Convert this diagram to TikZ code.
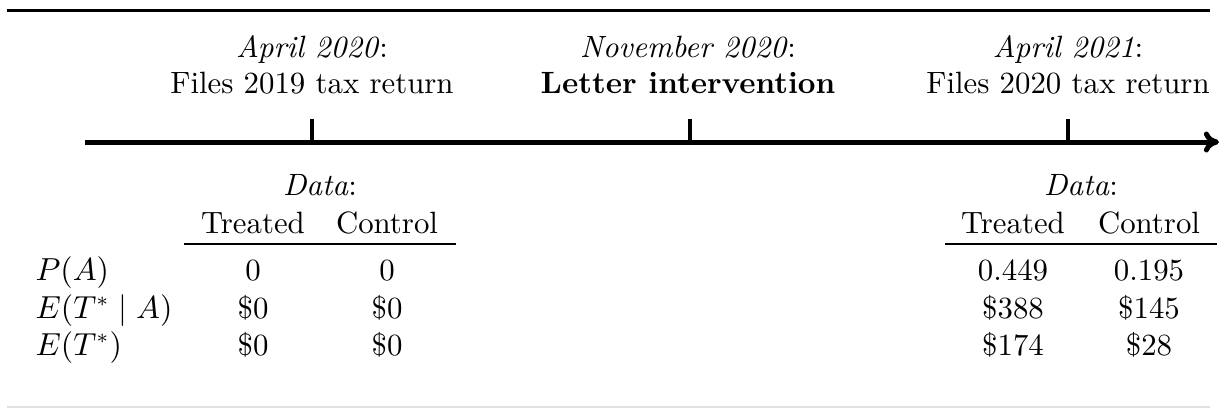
\documentclass[tikz,border=0pt]{standalone}
\usetikzlibrary{arrows.meta}
\begin{document}
\begin{tikzpicture}[x=0.344pt,y=-0.344pt,
  every node/.style={font=\fontsize{10.6}{12.7}\selectfont},
  txt/.style={inner sep=0pt,anchor=base},
  lbl/.style={inner sep=0pt,anchor=base west},
  toprulestyle/.style={line width=1.03pt},
  axis/.style={line width=1.72pt,-{To[length=5.2pt,width=7.2pt]}},
  tick/.style={line width=1.2pt},
  midrule/.style={line width=0.5pt},
  greyrule/.style={line width=0.4pt,draw=black!12}]
\useasboundingbox (0,0) rectangle (1223,408);
% rules
\coordinate (tr0) at (7,10); \coordinate (tr1) at (1210,10);
\draw[toprulestyle] (tr0) -- (tr1);
\coordinate (gr0) at (7,407); \coordinate (gr1) at (1210,407);
\draw[greyrule] (gr0) -- (gr1);
% timeline
\coordinate (t0) at (85,142); \coordinate (t1) at (1219,142);
\coordinate (k1) at (312,142); \coordinate (k1t) at (312,119);
\coordinate (k2) at (690,142); \coordinate (k2t) at (690,119);
\coordinate (k3) at (1068,142); \coordinate (k3t) at (1068,119);
\draw[tick] (k1) -- (k1t);
\draw[tick] (k2) -- (k2t);
\draw[tick] (k3) -- (k3t);
\draw[axis] (t0) -- (t1);
% event labels
\node[txt] (e1a) at (312,57) {\textit{April 2020}:};
\node[txt] (e1b) at (312,93) {Files 2019 tax return};
\node[txt] (e2a) at (688,57) {\textit{November 2020}:};
\node[txt] (e2b) at (688,93) {\textbf{Letter intervention}};
\node[txt] (e3a) at (1068,57) {\textit{April 2021}:};
\node[txt] (e3b) at (1068,93) {Files 2020 tax return};
% left table
\node[txt] (ld) at (320,195) {\textit{Data}:};
\node[txt] (lt) at (253,233) {Treated};
\node[txt] (lc) at (387,233) {Control};
\coordinate (lr0) at (184,244); \coordinate (lr1) at (456,244);
\draw[midrule] (lr0) -- (lr1);
\node[lbl] (r1) at (35,280) {$P(A)$};
\node[lbl] (r2) at (35,318) {$E(T^{*}\mid A)$};
\node[lbl] (r3) at (35,355) {$E(T^{*})$};
\node[txt] (l11) at (253,280) {0};
\node[txt] (l12) at (387,280) {0};
\node[txt] (l21) at (253,318) {\$0};
\node[txt] (l22) at (387,318) {\$0};
\node[txt] (l31) at (253,355) {\$0};
\node[txt] (l32) at (387,355) {\$0};
% right table
\node[txt] (rd) at (1081,195) {\textit{Data}:};
\node[txt] (rt) at (1013,233) {Treated};
\node[txt] (rc) at (1149,233) {Control};
\coordinate (rr0) at (945,244); \coordinate (rr1) at (1217,244);
\draw[midrule] (rr0) -- (rr1);
\node[txt] (v11) at (1013,280) {0.449};
\node[txt] (v12) at (1149,280) {0.195};
\node[txt] (v21) at (1013,318) {\$388};
\node[txt] (v22) at (1149,318) {\$145};
\node[txt] (v31) at (1013,355) {\$174};
\node[txt] (v32) at (1149,355) {\$28};
\end{tikzpicture}
\end{document}
